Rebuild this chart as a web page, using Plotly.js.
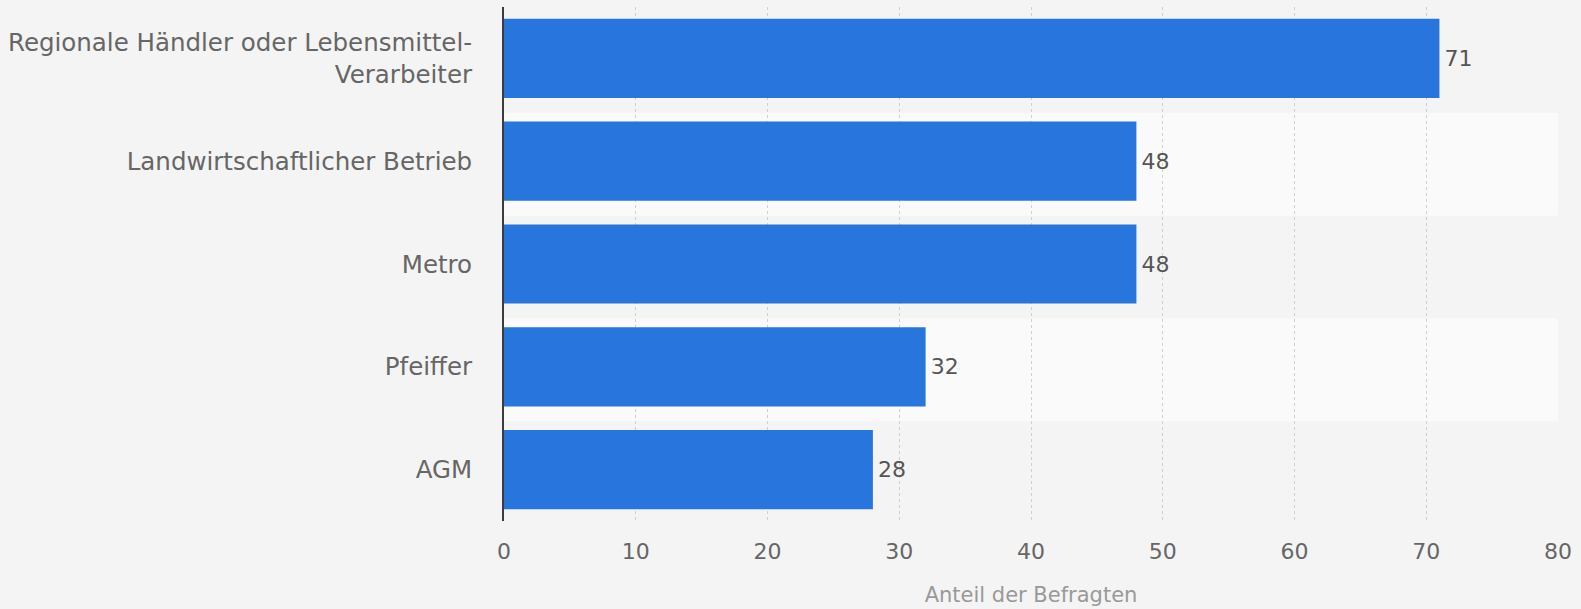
<!DOCTYPE html>
<html><head><meta charset="utf-8">
<script src="https://cdn.plot.ly/plotly-3.0.1.min.js"></script>
<style>html,body{margin:0;padding:0;background:#f4f4f4;}</style>
</head><body><div id="chart" style="width:1581px;height:609px;"></div>
<script>
const categories = ["Regionale Händler oder Lebensmittel-<br>Verarbeiter", "Landwirtschaftlicher Betrieb", "Metro", "Pfeiffer", "AGM"];
const values = [71, 48, 48, 32, 28];
const xTicks = [0, 10, 20, 30, 40, 50, 60, 70, 80];
const xTitle = "Anteil der Befragten";

const font = "DejaVu Sans, Verdana, sans-serif";
const bandShapes = [];
categories.forEach((c, i) => {
  if (i % 2 === 1) {
    bandShapes.push({type: 'rect', xref: 'x', yref: 'y', x0: 0, x1: 80, y0: i - 0.47, y1: i + 0.53,
      fillcolor: '#fafafa', line: {width: 0}, layer: 'below'});
  }
});

const trace = {
  type: 'bar', orientation: 'h', y: categories, x: values,
  marker: {color: '#2775dd'},
  text: values.map(v => '\u200A' + v), textposition: 'outside', cliponaxis: false,
  textfont: {family: font, size: 22, color: '#555555'},
  hoverinfo: 'none'
};

const layout = {
  width: 1581, height: 609,
  margin: {l: 504, r: 23, t: 7, b: 88},
  paper_bgcolor: '#f4f4f4', plot_bgcolor: 'rgba(0,0,0,0)',
  bargap: 0.23, showlegend: false,
  font: {family: font, color: '#666666'},
  shapes: bandShapes,
  xaxis: {
    range: [0, 80], tickvals: xTicks, ticktext: xTicks.map(String),
    showgrid: true, gridcolor: '#cfcfcf', griddash: 'dot', gridwidth: 1,
    zeroline: false, showline: false, ticks: '', ticklabelstandoff: 15,
    tickfont: {family: font, size: 22, color: '#666666'},
    title: {text: xTitle, font: {family: font, size: 21, color: '#999999'}, standoff: 24},
    fixedrange: true
  },
  yaxis: {
    type: 'category', autorange: 'reversed',
    showgrid: false, zeroline: false, showline: true, linecolor: '#3c3c3c', linewidth: 2,
    ticks: '', ticklabelstandoff: 25,
    tickfont: {family: font, size: 24.5, color: '#666666'},
    fixedrange: true
  }
};

Plotly.newPlot('chart', [trace], layout, {displayModeBar: false, staticPlot: true});
</script>
</body></html>
